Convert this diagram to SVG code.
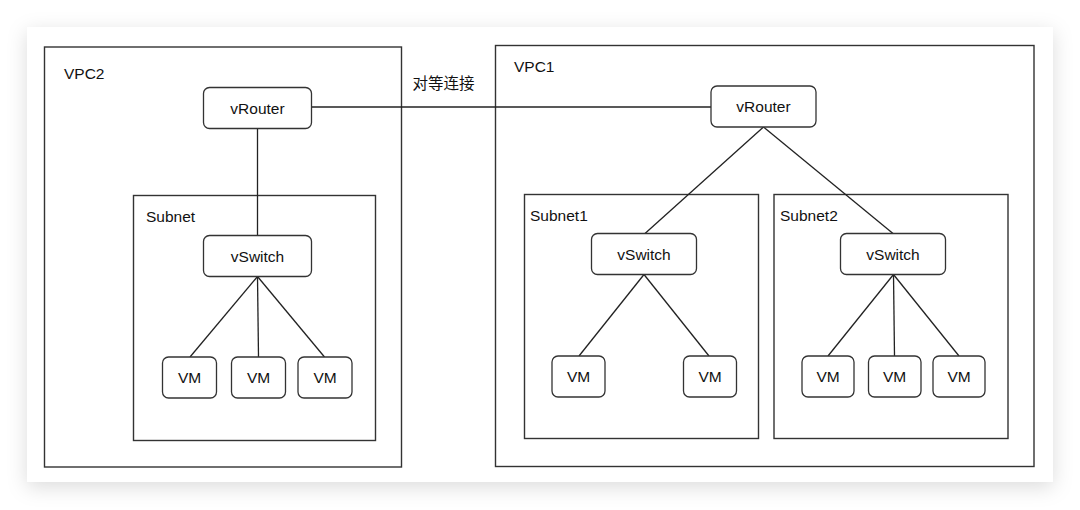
<svg xmlns="http://www.w3.org/2000/svg" width="1080" height="510" viewBox="0 0 1080 510">
  <defs>
    <filter id="shadow" x="-10%" y="-10%" width="120%" height="130%">
      <feDropShadow dx="0" dy="5" stdDeviation="10" flood-color="#000" flood-opacity="0.14"/>
    </filter>
  </defs>
  <style>
    .container { fill: none; stroke: #333; stroke-width: 1.4; }
    .node rect { fill: #fff; stroke: #333; stroke-width: 1.3; }
    .lbl { font-family: "Liberation Sans", Arial, "Noto Sans CJK SC", sans-serif; font-size: 15.5px; fill: #111; }
    .ctr { text-anchor: middle; }
    .cjk { font-family: "Noto Sans CJK SC", "Liberation Sans", sans-serif; font-size: 15.5px; fill: #111; }
    .conn line { stroke: #222; stroke-width: 1.3; }
  </style>
  <rect x="0" y="0" width="1080" height="510" fill="#ffffff"/>
  <rect x="27" y="27" width="1026" height="455" fill="#ffffff" filter="url(#shadow)"/>

  <g id="vpc2">
    <rect class="container" x="44.5" y="47" width="357" height="420"/>
    <text class="lbl" x="64" y="78.5">VPC2</text>
  </g>
  <g id="vpc1">
    <rect class="container" x="495.5" y="45.5" width="538.5" height="421"/>
    <text class="lbl" x="514" y="72">VPC1</text>
  </g>
  <g id="subnet">
    <rect class="container" x="133.5" y="195.5" width="242" height="245"/>
    <text class="lbl" x="146" y="222">Subnet</text>
  </g>
  <g id="subnet1">
    <rect class="container" x="524.5" y="194.5" width="234" height="244"/>
    <text class="lbl" x="530" y="220.5">Subnet1</text>
  </g>
  <g id="subnet2">
    <rect class="container" x="774" y="194.5" width="234" height="244"/>
    <text class="lbl" x="780" y="220.5">Subnet2</text>
  </g>

  <g id="connectors" class="conn">
    <line x1="311.5" y1="107" x2="711" y2="107"/>
    <line x1="257.5" y1="128.5" x2="257.5" y2="235.5"/>
    <line x1="257.5" y1="276.5" x2="190" y2="357"/>
    <line x1="257.5" y1="276.5" x2="258.5" y2="357"/>
    <line x1="257.5" y1="276.5" x2="324.5" y2="357"/>
    <line x1="763.5" y1="127" x2="645" y2="233.5"/>
    <line x1="763.5" y1="127" x2="893" y2="233.5"/>
    <line x1="644" y1="274.5" x2="579" y2="356"/>
    <line x1="644" y1="274.5" x2="709" y2="356"/>
    <line x1="893.5" y1="274.5" x2="828" y2="356"/>
    <line x1="893.5" y1="274.5" x2="894.5" y2="356"/>
    <line x1="893.5" y1="274.5" x2="959" y2="356"/>
  </g>
  <text id="peer-label" class="cjk" x="412.5" y="89">对等连接</text>

  <g id="vrouter2" class="node">
    <rect x="203.5" y="87.5" width="108" height="41" rx="6"/>
    <text class="lbl ctr" x="257.5" y="113.5">vRouter</text>
  </g>
  <g id="vrouter1" class="node">
    <rect x="711" y="86" width="105" height="41" rx="6"/>
    <text class="lbl ctr" x="763.5" y="112">vRouter</text>
  </g>
  <g id="vswitch-vpc2" class="node">
    <rect x="203.5" y="235.5" width="108" height="41" rx="6"/>
    <text class="lbl ctr" x="257.5" y="261.5">vSwitch</text>
  </g>
  <g id="vswitch-s1" class="node">
    <rect x="591.5" y="233.5" width="105" height="41" rx="6"/>
    <text class="lbl ctr" x="644" y="259.5">vSwitch</text>
  </g>
  <g id="vswitch-s2" class="node">
    <rect x="840.5" y="233.5" width="105" height="41" rx="6"/>
    <text class="lbl ctr" x="893" y="259.5">vSwitch</text>
  </g>

  <g id="vm-a1" class="node">
    <rect x="162.5" y="357" width="54" height="41" rx="6"/>
    <text class="lbl ctr" x="189.5" y="383">VM</text>
  </g>
  <g id="vm-a2" class="node">
    <rect x="231.5" y="357" width="54" height="41" rx="6"/>
    <text class="lbl ctr" x="258.5" y="383">VM</text>
  </g>
  <g id="vm-a3" class="node">
    <rect x="298" y="357" width="54" height="41" rx="6"/>
    <text class="lbl ctr" x="325" y="383">VM</text>
  </g>
  <g id="vm-b1" class="node">
    <rect x="552" y="356" width="53" height="41" rx="6"/>
    <text class="lbl ctr" x="578.5" y="382">VM</text>
  </g>
  <g id="vm-b2" class="node">
    <rect x="683.5" y="356" width="53" height="41" rx="6"/>
    <text class="lbl ctr" x="710" y="382">VM</text>
  </g>
  <g id="vm-c1" class="node">
    <rect x="802" y="356" width="52" height="41" rx="6"/>
    <text class="lbl ctr" x="828" y="382">VM</text>
  </g>
  <g id="vm-c2" class="node">
    <rect x="868.5" y="356" width="52.5" height="41" rx="6"/>
    <text class="lbl ctr" x="894.5" y="382">VM</text>
  </g>
  <g id="vm-c3" class="node">
    <rect x="933" y="356" width="52" height="41" rx="6"/>
    <text class="lbl ctr" x="959" y="382">VM</text>
  </g>
</svg>
